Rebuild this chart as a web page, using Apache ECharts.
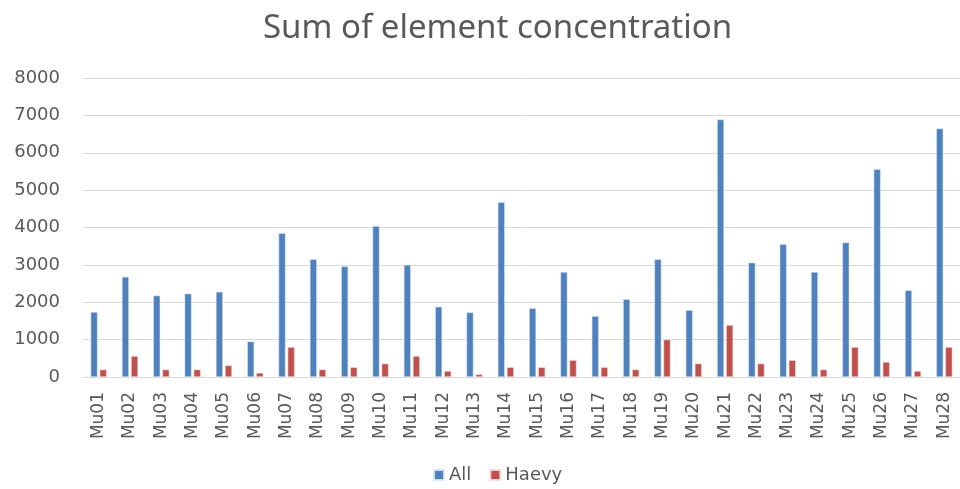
<!DOCTYPE html>
<html>
<head>
<meta charset="utf-8">
<script src="https://cdn.jsdelivr.net/npm/echarts@6/dist/echarts.min.js"></script>
<style>html,body{margin:0;padding:0;background:#fff}#c{width:960px;height:489px}</style>
</head>
<body>
<div id="c"></div>
<script>
var categories = ["Mu01","Mu02","Mu03","Mu04","Mu05","Mu06","Mu07","Mu08","Mu09","Mu10","Mu11","Mu12","Mu13","Mu14","Mu15","Mu16","Mu17","Mu18","Mu19","Mu20","Mu21","Mu22","Mu23","Mu24","Mu25","Mu26","Mu27","Mu28"];
var allValues = [1740,2680,2180,2230,2280,950,3850,3150,2960,4040,3000,1880,1730,4680,1840,2810,1630,2080,3150,1790,6890,3060,3550,2810,3600,5560,2320,6650];
var heavyValues = [200,560,200,200,310,110,800,200,260,360,560,160,70,260,260,450,260,200,1000,360,1390,360,450,200,800,400,160,800];
var yTicks = {min: 0, max: 8000, interval: 1000};

var chart = echarts.init(document.getElementById('c'), null, {renderer: 'canvas'});
var font = 'DejaVu Sans';
chart.setOption({
  animation: false,
  backgroundColor: '#ffffff',
  title: {
    text: 'Sum of element concentration',
    left: 258,
    top: 7,
    textStyle: {fontFamily: 'Noto Sans', fontSize: 33, fontWeight: 'normal', color: '#595959'}
  },
  legend: {
    bottom: 0,
    left: 428,
    itemWidth: 10,
    itemHeight: 10,
    itemGap: 18,
    icon: 'rect',
    textStyle: {fontFamily: font, fontSize: 18, color: '#595959'},
    data: ['All', 'Haevy']
  },
  grid: {left: 83, top: 78, width: 887, bottom: 112},
  xAxis: {
    type: 'category',
    data: categories,
    axisLine: {lineStyle: {color: '#d9d9d9'}},
    axisTick: {show: false},
    axisLabel: {rotate: 90, interval: 0, margin: 15, fontFamily: font, fontSize: 17, color: '#595959'}
  },
  yAxis: {
    type: 'value',
    min: yTicks.min,
    max: yTicks.max,
    interval: yTicks.interval,
    axisLine: {show: false},
    axisTick: {show: false},
    axisLabel: {margin: 23, fontFamily: font, fontSize: 18, color: '#595959',
                formatter: function (v) { return String(v); }},
    splitLine: {lineStyle: {color: '#d9d9d9', width: 1}}
  },
  series: [
    {name: 'All', type: 'bar', data: allValues, barWidth: 7, barGap: '30%',
     itemStyle: {color: '#4f81bd', borderColor: 'rgba(220,230,245,0.9)', borderWidth: 0.6}},
    {name: 'Haevy', type: 'bar', data: heavyValues, barWidth: 7, barGap: '30%',
     itemStyle: {color: '#c0504d', borderColor: 'rgba(245,220,220,0.9)', borderWidth: 0.6}}
  ]
});
</script>
</body>
</html>
